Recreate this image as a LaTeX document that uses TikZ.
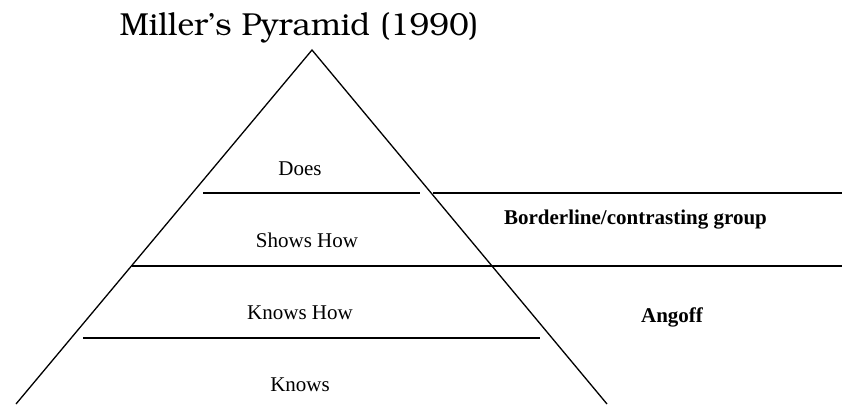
\documentclass[tikz,border=0pt]{standalone}
\usepackage[T1]{fontenc}
\usepackage{fontspec}
\setmainfont{Liberation Serif}
\tikzset{
  side/.style={draw=black, line width=1.3pt},
  level/.style={draw=black, line width=2.2pt},
  lbl/.style={anchor=base, inner sep=0pt, font=\fontsize{21}{24}\selectfont},
  blbl/.style={lbl, font=\fontsize{21}{24}\selectfont\bfseries},
}
\begin{document}
\begin{tikzpicture}[x=1pt,y=-1pt]
\useasboundingbox (0,0) rectangle (842,404);
% pyramid sides
\coordinate (apex) at (312,50);
\coordinate (bl) at (16,404);
\coordinate (br) at (607,404);
\draw[side] (bl) -- (apex) -- (br);
% level lines
\coordinate (l1a) at (203,193); \coordinate (l1b) at (420,193);
\coordinate (l1c) at (433,193); \coordinate (l1d) at (842,193);
\coordinate (l2a) at (132,266); \coordinate (l2b) at (842,266);
\coordinate (l3a) at (83,338);  \coordinate (l3b) at (540,338);
\draw[level] (l1a) -- (l1b);
\draw[level] (l1c) -- (l1d);
\draw[level] (l2a) -- (l2b);
\draw[level] (l3a) -- (l3b);
% title
\node[anchor=base, inner sep=0pt] (title) at (299,36)
  {\fontencoding{T1}\fontfamily{pbk}\fontsize{31.8}{34}\selectfont Miller's Pyramid (1990)};
% labels
\node[lbl] (does) at (300,175) {Does};
\node[lbl] (shows) at (307,247) {Shows How};
\node[lbl] (knowshow) at (300,319) {Knows How};
\node[lbl] (knows) at (300,391) {Knows};
\node[blbl] (border) at (635.5,224) {Borderline/contrasting group};
\node[blbl] (angoff) at (672,322) {Angoff};
\end{tikzpicture}
\end{document}
